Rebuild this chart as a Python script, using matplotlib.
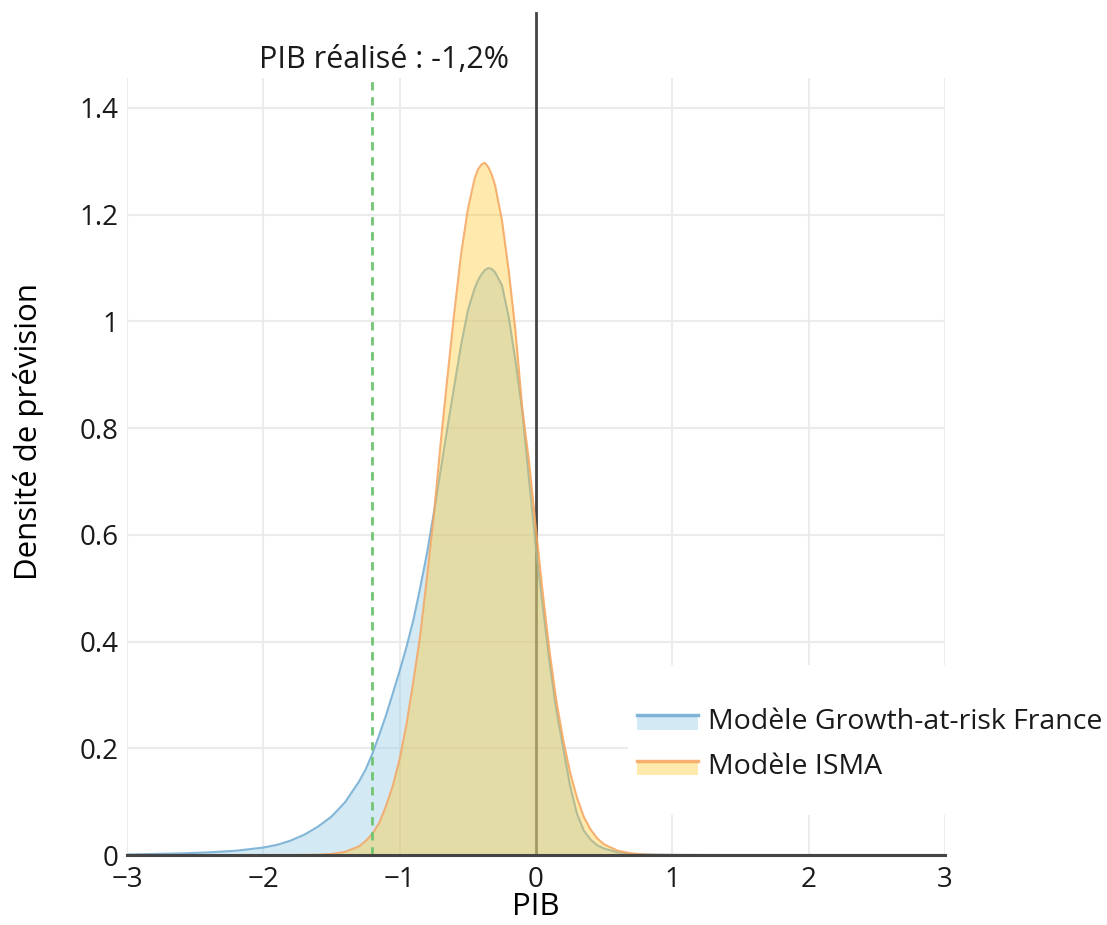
import matplotlib
matplotlib.use("Agg")
import matplotlib.pyplot as plt
from matplotlib.patches import Rectangle
from matplotlib.lines import Line2D
from matplotlib.legend_handler import HandlerBase

plt.rcParams['font.family'] = ['Open Sans', 'DejaVu Sans']

# ── data ────────────────────────────────────────────────────────────────────
X = [-3.0, -2.8, -2.6, -2.4, -2.2, -2.0, -1.9, -1.8, -1.7, -1.6, -1.5, -1.4,
     -1.3, -1.25, -1.2, -1.15, -1.1, -1.05, -1.0, -0.95, -0.9, -0.85, -0.8,
     -0.75, -0.7, -0.65, -0.6, -0.55, -0.5, -0.45, -0.425, -0.4, -0.375, -0.35,
     -0.325, -0.3, -0.25, -0.2, -0.15, -0.1, -0.05, 0.0, 0.05, 0.1, 0.15, 0.2,
     0.25, 0.3, 0.35, 0.4, 0.45, 0.5, 0.6, 0.7, 0.8, 0.9, 1.0, 1.2, 1.5, 2.0,
     2.5, 3.0]

GAR = [0.001, 0.002, 0.003, 0.005, 0.008, 0.014, 0.019, 0.027, 0.038, 0.053,
       0.072, 0.099, 0.137, 0.160, 0.190, 0.225, 0.262, 0.303, 0.345, 0.390,
       0.440, 0.500, 0.565, 0.640, 0.720, 0.800, 0.878, 0.955, 1.020, 1.062,
       1.077, 1.088, 1.096, 1.100, 1.098, 1.092, 1.068, 1.008, 0.925, 0.830,
       0.700, 0.575, 0.465, 0.360, 0.270, 0.200, 0.130, 0.078, 0.046, 0.029,
       0.018, 0.012, 0.005, 0.002, 0.001, 0.0005, 0.0003, 0.0001, 0.0, 0.0,
       0.0, 0.0]

ISMA = [0.0, 0.0, 0.0, 0.0, 0.0, 0.0, 0.0, 0.0, 0.0002, 0.0006,
        0.002, 0.006, 0.016, 0.026, 0.040, 0.060, 0.092, 0.130, 0.180, 0.245,
        0.325, 0.410, 0.520, 0.635, 0.770, 0.895, 1.015, 1.125, 1.210, 1.268,
        1.285, 1.294, 1.297, 1.289, 1.275, 1.255, 1.190, 1.095, 0.980, 0.835,
        0.735, 0.610, 0.490, 0.380, 0.288, 0.215, 0.155, 0.108, 0.072, 0.048,
        0.031, 0.020, 0.008, 0.003, 0.001, 0.0003, 0.0, 0.0, 0.0, 0.0,
        0.0, 0.0]

PIB_REALISE = -1.2
LABELS = ['Modèle Growth-at-risk France', 'Modèle ISMA']
ANNOT = 'PIB réalisé : -1,2%'
YTICKS = [0, 0.2, 0.4, 0.6, 0.8, 1.0, 1.2, 1.4]
YTICKLABELS = ['0', '0.2', '0.4', '0.6', '0.8', '1', '1.2', '1.4']
XTICKS = [-3, -2, -1, 0, 1, 2, 3]

BLUE_FILL = (147/255, 203/255, 230/255, 0.40)
BLUE_LINE = (110/255, 170/255, 210/255, 0.85)
ORANGE_FILL = (255/255, 200/255, 50/255, 0.40)
ORANGE_LINE = (245/255, 165/255, 95/255, 0.85)
TXT = '#1a1a1a'


class FillSwatch(HandlerBase):
    """plotly-like legend key: filled box with the trace line along its top."""
    def __init__(self, line_color):
        super().__init__()
        self.line_color = line_color

    def create_artists(self, legend, orig, xd, yd, w, h, fontsize, trans):
        r = Rectangle((xd, yd), w, 0.8 * h,
                      facecolor=orig.get_facecolor()[0], edgecolor='none',
                      transform=trans)
        l = Line2D([xd, xd + w], [yd + 0.8 * h] * 2, color=self.line_color,
                   lw=2.5, transform=trans)
        return [r, l]


W, H = 1107, 925
fig = plt.figure(figsize=(W / 100, H / 100), dpi=100)
ax = fig.add_axes([127 / W, 1 - 855 / H, (945 - 127) / W, (855 - 78) / H])

ax.set_xlim(-3, 3)
ax.set_ylim(0, 1.456)

# zero line at x = 0 (extends above the plot area, under the fills)
ax.axvline(0, ymin=0, ymax=1.084, color='#444444', lw=2, zorder=1.5,
           clip_on=False)

fb = ax.fill_between(X, GAR, color=BLUE_FILL, lw=0, zorder=2)
ax.plot(X, GAR, color=BLUE_LINE, lw=1.5, zorder=2.1)
fo = ax.fill_between(X, ISMA, color=ORANGE_FILL, lw=0, zorder=2.2)
ax.plot(X, ISMA, color=ORANGE_LINE, lw=1.5, zorder=2.3)

ax.axvline(PIB_REALISE, color='#72c472', lw=2, ls=(0, (3, 2.4)), zorder=3)
ax.text(-1.115, 1.49, ANNOT, ha='center', va='center', fontsize=22,
        color=TXT, clip_on=False)

ax.set_xticks(XTICKS)
ax.set_yticks(YTICKS)
ax.set_yticklabels(YTICKLABELS)
ax.tick_params(length=0, labelsize=20, labelcolor=TXT)
ax.tick_params(axis='x', pad=8)
ax.tick_params(axis='y', pad=6)
ax.grid(color='#ebebeb', lw=1.5, zorder=0)
ax.set_axisbelow(True)
for side in ['left', 'right', 'top']:
    ax.spines[side].set_visible(False)
ax.spines['bottom'].set_color('#444444')
ax.spines['bottom'].set_linewidth(2.2)
ax.spines['bottom'].set_zorder(4)

ax.set_xlabel('PIB', fontsize=22.5, color='black', va='baseline')
ax.xaxis.set_label_coords(0.5, -(915 - 855) / (855 - 78))
ax.set_ylabel('Densité de prévision', fontsize=22.5, color='black',
              va='center')
ax.yaxis.set_label_coords((29 - 127) / (945 - 127), (855 - 432) / (855 - 78))

# white legend background hiding the gridlines (as in the reference)
ax.add_patch(Rectangle((628 / W, 1 - 815 / H), (W - 628) / W, 150 / H,
                       transform=fig.transFigure, facecolor='white',
                       edgecolor='none', zorder=5, clip_on=False))

leg = ax.legend([fb, fo], LABELS, loc='center left',
                bbox_to_anchor=(637 / W, 1 - 744.5 / H),
                bbox_transform=fig.transFigure,
                handler_map={fb: FillSwatch(BLUE_LINE),
                             fo: FillSwatch(ORANGE_LINE)},
                fontsize=20.5, frameon=False, borderpad=0, borderaxespad=0,
                handlelength=2.15, handleheight=0.6, handletextpad=0.35,
                labelspacing=0.62)
for t in leg.get_texts():
    t.set_color(TXT)
leg.set_zorder(10)

fig.savefig('out.png', dpi=100, facecolor='white')
